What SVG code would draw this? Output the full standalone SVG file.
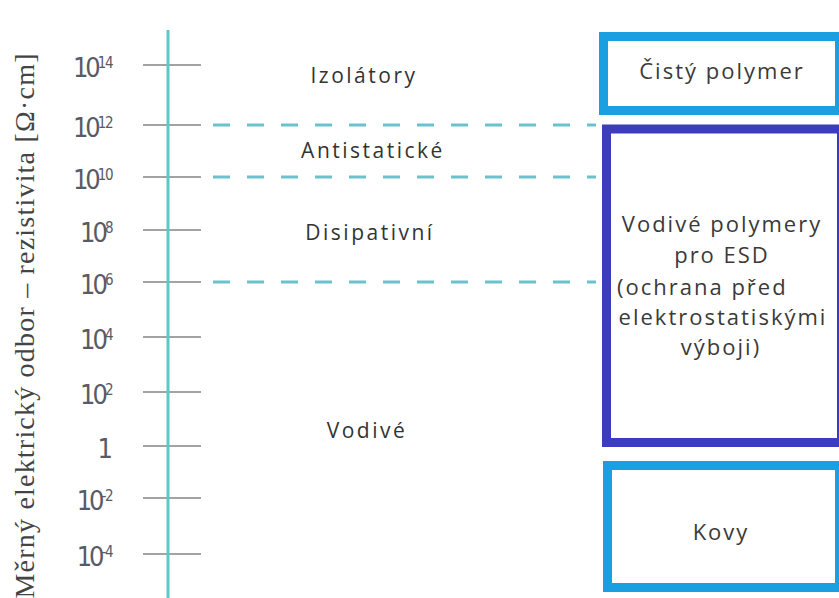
<svg xmlns="http://www.w3.org/2000/svg" width="839" height="598" viewBox="0 0 839 598">
<style>
.tick{stroke:#a3a3a3;stroke-width:2}
.dash{stroke:#6cc2cc;stroke-width:3;stroke-dasharray:17 17}
.num{font-family:"DejaVu Sans Condensed","DejaVu Sans",sans-serif;font-size:27px;fill:#5a5a66;text-anchor:end;letter-spacing:-3px}
.sup{font-size:15px;letter-spacing:-1.5px}
.reg{font-family:"Open Sans",sans-serif;font-size:21px;fill:#333;text-anchor:middle;letter-spacing:2.5px}
.box{font-family:"Open Sans",sans-serif;font-size:22px;fill:#3a3a3a;text-anchor:middle;letter-spacing:2px}
.light{fill:#fff;stroke:#1a9fe0;stroke-width:9}
.dark{fill:#fff;stroke:#3c3cbe;stroke-width:9}
</style>
<rect width="839" height="598" fill="#fff"/>
<text transform="translate(34,326) rotate(-90)" text-anchor="middle" textLength="545" lengthAdjust="spacing" font-family="Liberation Serif,serif" font-size="28" fill="#444">Měrný elektrický odbor – rezistivita [Ω·cm]</text>
<g id="axis">
<line x1="143" y1="65" x2="201" y2="65" class="tick"/>
<line x1="143" y1="125" x2="201" y2="125" class="tick"/>
<line x1="143" y1="177" x2="201" y2="177" class="tick"/>
<line x1="143" y1="230" x2="201" y2="230" class="tick"/>
<line x1="143" y1="282" x2="201" y2="282" class="tick"/>
<line x1="143" y1="337" x2="201" y2="337" class="tick"/>
<line x1="143" y1="392" x2="201" y2="392" class="tick"/>
<line x1="143" y1="446" x2="201" y2="446" class="tick"/>
<line x1="143" y1="498" x2="201" y2="498" class="tick"/>
<line x1="143" y1="554" x2="201" y2="554" class="tick"/>
<line x1="168" y1="30" x2="168" y2="598" stroke="#5cc8c8" stroke-width="3"/>
<text x="112" y="77" class="num">10<tspan class="sup" dy="-9">14</tspan></text>
<text x="112" y="137" class="num">10<tspan class="sup" dy="-9">12</tspan></text>
<text x="112" y="189" class="num">10<tspan class="sup" dy="-9">10</tspan></text>
<text x="112" y="242" class="num">10<tspan class="sup" dy="-9">8</tspan></text>
<text x="112" y="294" class="num">10<tspan class="sup" dy="-9">6</tspan></text>
<text x="112" y="349" class="num">10<tspan class="sup" dy="-9">4</tspan></text>
<text x="112" y="404" class="num">10<tspan class="sup" dy="-9">2</tspan></text>
<text x="110" y="458" class="num">1</text>
<text x="112" y="510" class="num">10<tspan class="sup" dy="-9">-2</tspan></text>
<text x="112" y="566" class="num">10<tspan class="sup" dy="-9">-4</tspan></text>
</g>
<g id="connectors">
<line x1="213" y1="125" x2="596" y2="125" class="dash"/>
<line x1="213" y1="177" x2="596" y2="177" class="dash"/>
<line x1="213" y1="282" x2="596" y2="282" class="dash"/>
</g>
<g id="regions">
<text x="364" y="83" class="reg">Izolátory</text>
<text x="373" y="158" class="reg">Antistatické</text>
<text x="370" y="240" class="reg">Disipativní</text>
<text x="367" y="438" class="reg">Vodivé</text>
</g>
<g id="cisty">
<rect x="603.5" y="36.5" width="236" height="74" class="light"/>
<text x="722" y="79" class="box">Čistý polymer</text>
</g>
<g id="vodive">
<rect x="606.5" y="129" width="235" height="313.5" class="dark"/>
<text class="box"><tspan x="722" y="232">Vodivé polymery</tspan><tspan x="722" y="263">pro ESD</tspan><tspan x="617" y="295" text-anchor="start">(ochrana před</tspan><tspan x="723" y="325">elektrostatiskými</tspan><tspan x="721" y="355">výboji)</tspan></text>
</g>
<g id="kovy">
<rect x="607.5" y="465.5" width="232" height="122" class="light"/>
<text x="721" y="540" class="box">Kovy</text>
</g>
</svg>
